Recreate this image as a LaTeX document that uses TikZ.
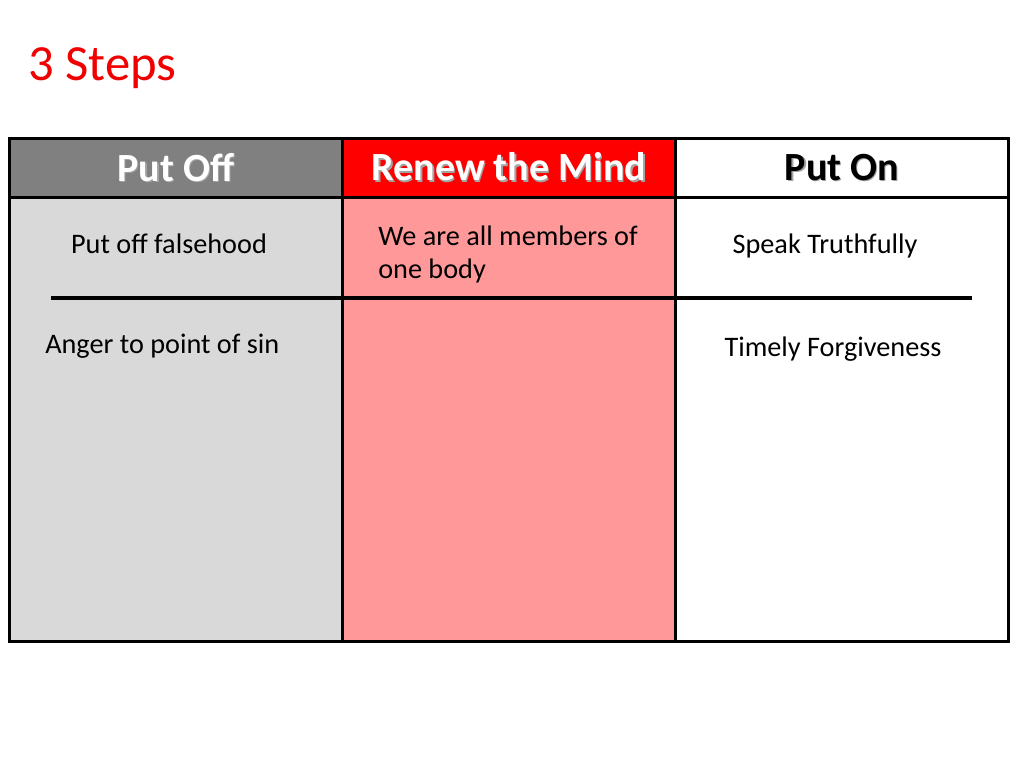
\documentclass[tikz,border=0pt]{standalone}
\usepackage{fontspec}
\setmainfont{Carlito}
\usepackage{tikz}
\usetikzlibrary{positioning}
\definecolor{HeadGray}{RGB}{128,128,128}
\definecolor{HeadRed}{RGB}{255,0,0}
\definecolor{BodyGray}{RGB}{217,217,217}
\definecolor{BodyPink}{RGB}{255,153,153}
\definecolor{TitleRed}{RGB}{240,0,0}
\definecolor{ShadowGray}{RGB}{50,50,50}
% header text with a soft drop shadow
\newcommand{\shadowed}[2]{\makebox[0pt][l]{\hspace{1.1pt}\raisebox{-1.1pt}{\textcolor{ShadowGray!45}{#2}}}\textcolor{#1}{#2}}
\tikzset{
  % header cell
  hcell/.style={
    draw=black,
    line width=2pt,
    minimum width=249.75pt,
    minimum height=44.25pt,
    inner sep=0pt,
    anchor=north west,
    font=\fontsize{30}{36}\selectfont\bfseries
  },
  % body cell
  bcell/.style={
    draw=black,
    line width=2pt,
    minimum width=249.75pt,
    minimum height=333pt,
    inner sep=0pt,
    anchor=north west
  },
  % body text
  btext/.style={
    font=\fontsize{21.2}{24.75}\selectfont,
    inner sep=0pt,
    text=black
  },
  % row separator
  divider/.style={
    draw=black,
    line width=3pt
  }
}
\begin{document}
\begin{tikzpicture}[x=0.75pt,y=-0.75pt]
  \useasboundingbox (0,0) rectangle (1024,768);
  \node[font=\fontsize{38}{46}\selectfont, text=TitleRed, anchor=base west, inner sep=0pt] (title) at (28,80) {3 Steps};
  % body cells
  \node[bcell, fill=BodyGray] (bOff) at (8,196) {};
  \node[bcell, fill=BodyPink] (bMind) at (341,196) {};
  \node[bcell, fill=white] (bOn) at (674,196) {};
  % header cells
  \node[hcell, fill=HeadGray] (hOff) at (8,137) {\shadowed{white}{Put Off}};
  \node[hcell, fill=HeadRed] (hMind) at (341,137) {\shadowed{white}{Renew the Mind}};
  \node[hcell, fill=white] (hOn) at (674,137) {\shadowed{black}{Put On}};
  % separator between the two rows of entries
  \coordinate (sepL) at (51,298);
  \coordinate (sepR) at (972,298);
  \draw[divider] (sepL) -- (sepR);
  % entries
  \node[btext, anchor=base] (falsehood) at (169,253) {Put off falsehood};
  \node[btext, anchor=base west] (anger) at (45,353) {Anger to point of sin};
  \node[btext, anchor=north west, align=left] (members) at (378,226) {We are all members of\\one body};
  \node[btext, anchor=base] (truth) at (825,253) {Speak Truthfully};
  \node[btext, anchor=base] (forgive) at (833,356) {Timely Forgiveness};
\end{tikzpicture}
\end{document}
